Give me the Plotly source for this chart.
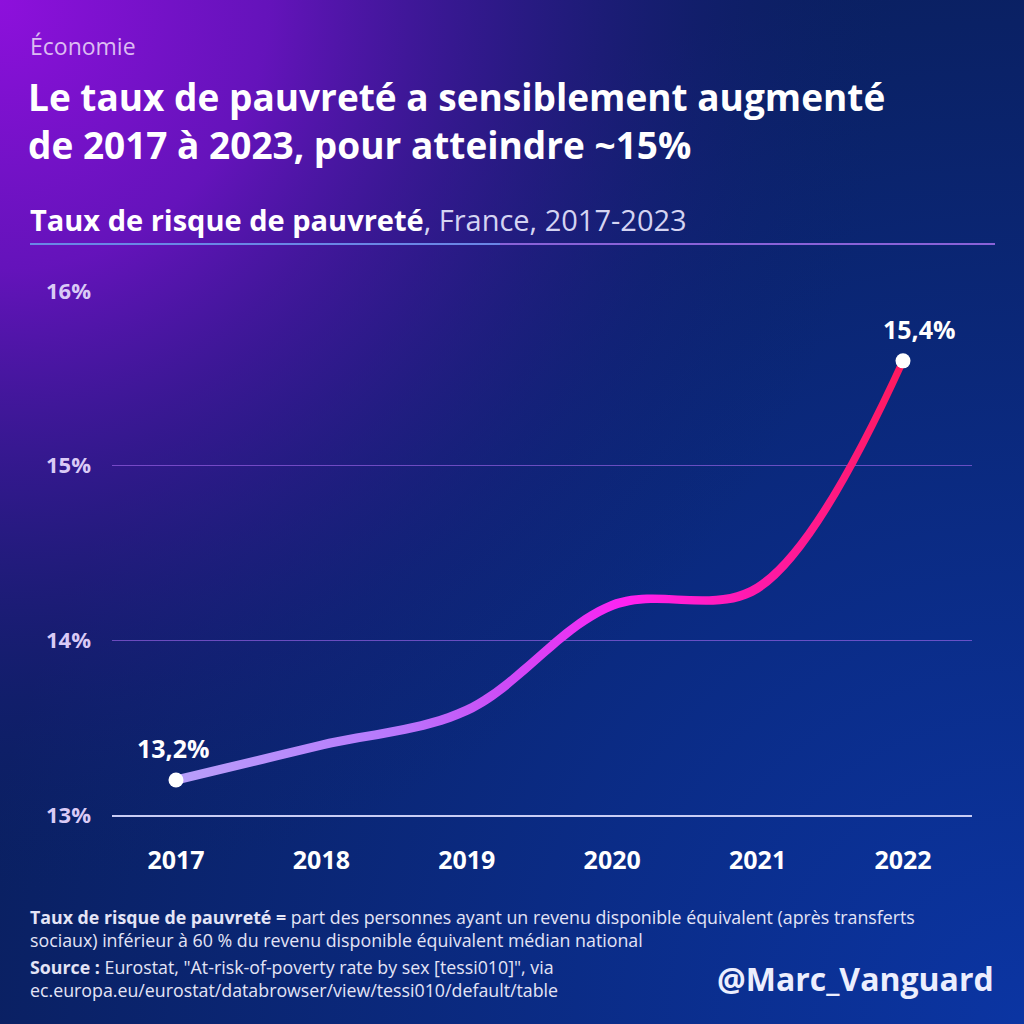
import base64
import plotly.graph_objects as go

# ---------------- data ----------------
years = ["2017", "2018", "2019", "2020", "2021", "2022"]
rates = [13.2, 13.4, 13.6, 14.2, 14.3, 15.6]
point_labels = ["13,2%", "15,4%"]          # labels shown on first and last point
y_ticks = [13, 14, 15, 16]
y_tick_labels = ["13%", "14%", "15%", "16%"]

# ---------------- layout geometry (pixels) ----------------
W, H = 1024, 1024
L, R, T, B = 112, 52, 291, 209
PW, PH = W - L - R, H - T - B
FONT = "Open Sans"
X_FIRST, X_LAST = 176, 903     # pixel positions of first / last category


def px(x):
    return (x - L) / PW


def py(y):
    return (H - B - y) / PH


# background as an svg gradient image
svg = f"""<svg xmlns='http://www.w3.org/2000/svg' width='{W}' height='{H}'>
<defs>
<radialGradient id='b' cx='{W}' cy='{H}' r='1050' gradientUnits='userSpaceOnUse'>
<stop offset='0' stop-color='#0b36a6' stop-opacity='0.95'/>
<stop offset='1' stop-color='#0b36a6' stop-opacity='0'/>
</radialGradient>
<radialGradient id='a' cx='0' cy='0' r='900' gradientUnits='userSpaceOnUse'>
<stop offset='0' stop-color='#8e10dc' stop-opacity='1'/>
<stop offset='0.3' stop-color='#6c12c2' stop-opacity='0.92'/>
<stop offset='0.55' stop-color='#4814a4' stop-opacity='0.58'/>
<stop offset='0.78' stop-color='#2a1788' stop-opacity='0.22'/>
<stop offset='1' stop-color='#0b2166' stop-opacity='0'/>
</radialGradient>
</defs>
<rect width='{W}' height='{H}' fill='#0a2062'/>
<rect width='{W}' height='{H}' fill='url(#b)'/>
<rect width='{W}' height='{H}' fill='url(#a)'/>
</svg>"""
bg_uri = "data:image/svg+xml;base64," + base64.b64encode(svg.encode()).decode()

x_idx = list(range(len(years)))
step = (X_LAST - X_FIRST) / (len(years) - 1)
x_lo = -(X_FIRST - L) / step
x_hi = (len(years) - 1) + (W - R - X_LAST) / step
ux = PW / (x_hi - x_lo)        # px per x unit
uy = PH / (y_ticks[-1] - y_ticks[0])
dxd, dyd = 2.0 / ux, 4.2 / uy  # half thickness of the drawn line

fig = go.Figure()
fig.add_trace(go.Scatter(
    x=[i + dxd for i in x_idx], y=[v - dyd for v in rates], mode="lines",
    line=dict(width=0, shape="spline", smoothing=1),
    hoverinfo="skip", showlegend=False))
fig.add_trace(go.Scatter(
    x=[i - dxd for i in x_idx], y=[v + dyd for v in rates], mode="lines",
    line=dict(width=0, shape="spline", smoothing=1), fill="tonexty",
    fillgradient=dict(type="horizontal", colorscale=[
        [0.0, "#b8a0fa"], [0.3, "#b878fc"], [0.45, "#cc4cf6"],
        [0.62, "#ff22f2"], [0.78, "#ff1ab0"], [1.0, "#ff1a5c"]]),
    hoverinfo="skip", showlegend=False))
fig.add_trace(go.Scatter(
    x=[x_idx[0], x_idx[-1]], y=[rates[0], rates[-1]], mode="markers",
    marker=dict(size=15, color="white"), hoverinfo="skip", showlegend=False))

ann = []
ann.append(dict(x=x_idx[0], y=rates[0], xref="x", yref="y", text=f"<b>{point_labels[0]}</b>",
                showarrow=False, yshift=32, xshift=-3, font=dict(family=FONT, size=25, color="white")))
ann.append(dict(x=x_idx[-1], y=rates[-1], xref="x", yref="y", text=f"<b>{point_labels[1]}</b>",
                showarrow=False, yshift=32, xshift=16, font=dict(family=FONT, size=25, color="white")))


def txt(x, y, text, size, color, anchor="left"):
    ann.append(dict(x=px(x), y=py(y), xref="paper", yref="paper", text=text, showarrow=False,
                    xanchor=anchor, yanchor="middle", align="left",
                    font=dict(family=FONT, size=size, color=color)))


txt(28, 46, "Économie", 23, "#dcbcf2")
txt(26, 121, "<b>Le taux de pauvreté a sensiblement augmenté<br>de 2017 à 2023, pour atteindre ~15%</b>",
    37, "white")
txt(28, 219, "<b>Taux de risque de pauvreté</b><span style='color:#d4d4f2'>, France, 2017-2023</span>",
    29, "white")
txt(28, 928, "<b>Taux de risque de pauvreté =</b> part des personnes ayant un revenu disponible équivalent (après transferts"
    "<br>sociaux) inférieur à 60 % du revenu disponible équivalent médian national", 17.8, "#e4e4f6")
txt(28, 978, "<b>Source :</b> Eurostat, \"At-risk-of-poverty rate by sex [tessi010]\", via"
    "<br>ec.europa.eu/eurostat/databrowser/view/tessi010/default/table", 17.8, "#e4e4f6")
txt(996, 978, "<b>@Marc_Vanguard</b>", 32, "#eceefe", anchor="right")

shapes = [
    dict(type="line", xref="paper", yref="paper", x0=px(30), x1=px(500), y0=py(244), y1=py(244),
         line=dict(color="#6a86e6", width=2)),
    dict(type="line", xref="paper", yref="paper", x0=px(500), x1=px(995), y0=py(244), y1=py(244),
         line=dict(color="#8a62d8", width=2)),
]

fig.update_layout(
    width=W, height=H, autosize=False,
    margin=dict(l=L, r=R, t=T, b=B, pad=0),
    paper_bgcolor="#0a2062", plot_bgcolor="rgba(0,0,0,0)",
    images=[dict(source=bg_uri, xref="paper", yref="paper", x=px(0), y=py(0),
                 sizex=W / PW, sizey=H / PH, xanchor="left", yanchor="top",
                 sizing="stretch", layer="below")],
    annotations=ann, shapes=shapes, showlegend=False,
    xaxis=dict(range=[x_lo, x_hi], tickmode="array", tickvals=x_idx, ticktext=years,
               showgrid=False, zeroline=False, showline=True, linecolor="#c9cdf5", linewidth=2,
               ticks="", ticklabelstandoff=22,
               tickfont=dict(family=FONT, size=25, color="white", weight="bold"), fixedrange=True),
    yaxis=dict(range=[y_ticks[0], y_ticks[-1]], tickmode="array", tickvals=y_ticks, ticktext=y_tick_labels,
               showgrid=True, gridcolor="rgba(165,105,240,0.6)", gridwidth=1, zeroline=False,
               showline=False, ticks="", ticklabelstandoff=20,
               tickfont=dict(family=FONT, size=22, color="#dacaf6", weight="bold"), fixedrange=True),
)

fig.write_html("out.html", config={"displayModeBar": False},
               post_script="document.body.style.margin='0px';")
